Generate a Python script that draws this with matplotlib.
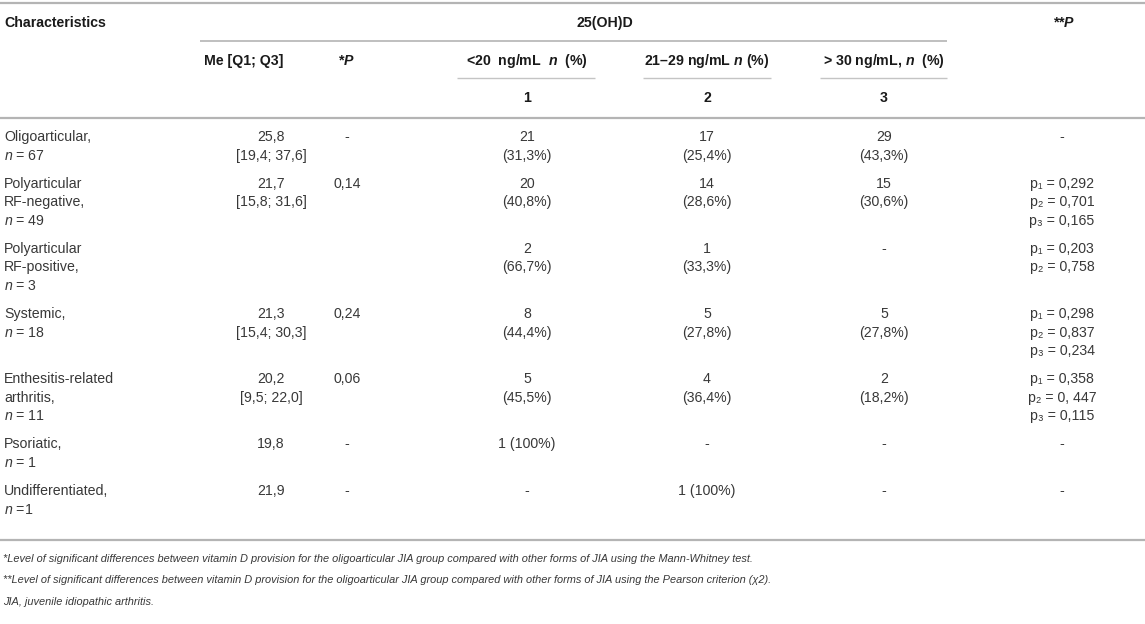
import matplotlib
matplotlib.use("Agg")
import matplotlib.pyplot as plt

plt.rcParams['font.family'] = ['Liberation Sans', 'DejaVu Sans']
plt.rcParams['mathtext.fontset'] = 'custom'
plt.rcParams['mathtext.rm'] = 'Liberation Sans'
plt.rcParams['mathtext.it'] = 'Liberation Sans:italic'
plt.rcParams['mathtext.bf'] = 'Liberation Sans:bold'
plt.rcParams['mathtext.bfit'] = 'Liberation Sans:italic:bold'

# ---------------- data ----------------
group_labels = [["Oligoarticular,"],
                ["Polyarticular", "RF-negative,"],
                ["Polyarticular", "RF-positive,"],
                ["Systemic,"],
                ["Enthesitis-related", "arthritis,"],
                ["Psoriatic,"],
                ["Undifferentiated,"]]
group_n = ["$n$ = 67", "$n$ = 49", "$n$ = 3", "$n$ = 18", "$n$ = 11", "$n$ = 1", "$n$ =1"]
me_values = [["25,8", "[19,4; 37,6]"], ["21,7", "[15,8; 31,6]"], [], ["21,3", "[15,4; 30,3]"],
             ["20,2", "[9,5; 22,0]"], ["19,8"], ["21,9"]]
p_mann_whitney = ["-", "0,14", "", "0,24", "0,06", "-", "-"]
level1 = [["21", "(31,3%)"], ["20", "(40,8%)"], ["2", "(66,7%)"], ["8", "(44,4%)"],
          ["5", "(45,5%)"], ["1 (100%)"], ["-"]]
level2 = [["17", "(25,4%)"], ["14", "(28,6%)"], ["1", "(33,3%)"], ["5", "(27,8%)"],
          ["4", "(36,4%)"], ["-"], ["1 (100%)"]]
level3 = [["29", "(43,3%)"], ["15", "(30,6%)"], ["-"], ["5", "(27,8%)"],
          ["2", "(18,2%)"], ["-"], ["-"]]
p_pearson = [["-"],
             ["p\u2081 = 0,292", "p\u2082 = 0,701", "p\u2083 = 0,165"],
             ["p\u2081 = 0,203", "p\u2082 = 0,758"],
             ["p\u2081 = 0,298", "p\u2082 = 0,837", "p\u2083 = 0,234"],
             ["p\u2081 = 0,358", "p\u2082 = 0, 447", "p\u2083 = 0,115"],
             ["-"], ["-"]]
header_top = ["Characteristics", "25(OH)D", "**$\\mathbfit{P}$"]
header_mid = ["Me [Q1; Q3]", "*$\\mathbfit{P}$", "<20  ng/mL  $\\mathbfit{n}$  (%)",
              "21\u201329 ng/mL $\\mathbfit{n}$ (%)", "> 30 ng/mL, $\\mathbfit{n}$  (%)"]
header_num = ["1", "2", "3"]
footnotes = ["*Level of significant differences between vitamin D provision for the oligoarticular JIA group compared with other forms of JIA using the Mann-Whitney test.",
             "**Level of significant differences between vitamin D provision for the oligoarticular JIA group compared with other forms of JIA using the Pearson criterion (\u03c72).",
             "JIA, juvenile idiopathic arthritis."]

# ---------------- layout ----------------
W, H = 1145, 624
fig = plt.figure(figsize=(W / 100, H / 100), dpi=100)
ax = fig.add_axes([0, 0, 1, 1])
ax.set_xlim(0, W)
ax.set_ylim(H, 0)
ax.axis('off')

TXT = '#383838'
HDR = '#1a1a1a'
LINE = '#b4b4b4'
FS = 10.2

def hline(y, x0, x1, lw=1.4, c=LINE):
    ax.plot([x0, x1], [y, y], color=c, lw=lw, solid_capstyle='butt')

hline(3, 0, W, 1.6)
hline(41, 200, 947, 1.2)
for x0, x1 in [(457, 595), (643, 771), (820, 947)]:
    hline(78, x0, x1, 1.0, '#c4c4c4')
hline(118, 0, W, 1.6)

ax.text(4, 23, header_top[0], fontsize=FS, fontweight='bold', color=HDR, ha='left', va='center')
ax.text(605, 23, header_top[1], fontsize=FS, fontweight='bold', color=HDR, ha='center', va='center')
ax.text(1064, 23, header_top[2], fontsize=FS, fontweight='bold', color=HDR, ha='center', va='center')

mid_x = [244, 346, 527, 707, 884]
for x, t in zip(mid_x, header_mid):
    ax.text(x, 61, t, fontsize=FS, fontweight='bold', color=HDR, ha='center', va='center')
for x, t in zip([527, 707, 884], header_num):
    ax.text(x, 98, t, fontsize=FS, fontweight='bold', color=HDR, ha='center', va='center')

col_me, col_p, col_1, col_2, col_3, col_pp = 271, 347, 527, 707, 884, 1062
pitch = 18.6
gap = 28.0
y = 137.0
for i in range(len(group_labels)):
    label = group_labels[i] + [group_n[i]]
    nlines = max(len(label), len(p_pearson[i]))
    for k, t in enumerate(label):
        ax.text(4, y + k * pitch, t, fontsize=FS, color=TXT, ha='left', va='center')
    for k, t in enumerate(me_values[i]):
        ax.text(col_me, y + k * pitch, t, fontsize=FS, color=TXT, ha='center', va='center')
    if p_mann_whitney[i]:
        ax.text(col_p, y, p_mann_whitney[i], fontsize=FS, color=TXT, ha='center', va='center')
    for col, vals in [(col_1, level1[i]), (col_2, level2[i]), (col_3, level3[i])]:
        for k, t in enumerate(vals):
            ax.text(col, y + k * pitch, t, fontsize=FS, color=TXT, ha='center', va='center')
    for k, t in enumerate(p_pearson[i]):
        ax.text(col_pp, y + k * pitch, t, fontsize=FS, color=TXT, ha='center', va='center')
    y += (nlines - 1) * pitch + gap

bottom = y - gap + 30
hline(bottom, 0, W, 1.6)

for k, t in enumerate(footnotes):
    ax.text(3, bottom + 19 + k * 21.5, t, fontsize=7.9, style='italic', color=TXT,
            ha='left', va='center')

fig.savefig('out.png', dpi=100, facecolor='white')
